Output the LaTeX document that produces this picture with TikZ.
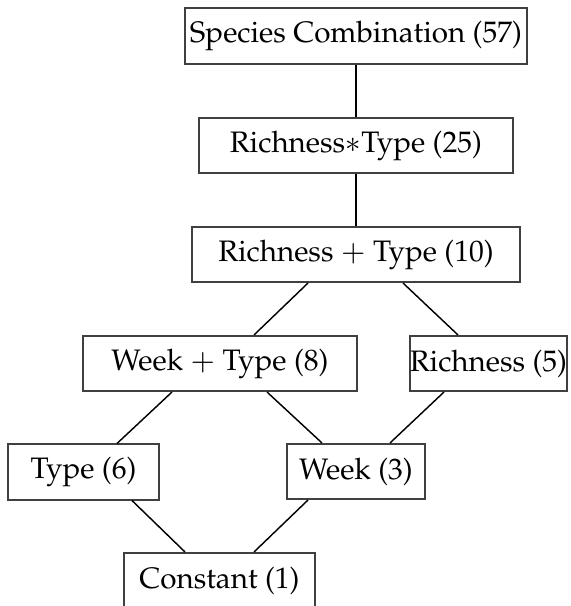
\documentclass[tikz,border=0pt]{standalone}
\usepackage[T1]{fontenc}
\usepackage{mathpazo}
\usetikzlibrary{calc}

\begin{document}
\begin{tikzpicture}[x=0.277pt, y=-0.277pt, font=\fontsize{8.2}{10}\selectfont,
  model/.style={draw, line width=0.5pt, draw=black!75, minimum height=15.3pt, inner sep=0pt, minimum width=#1}]

\useasboundingbox (0,0) rectangle (571,606);

% Models, from full to constant
\node[model=94.7pt] (sp) at (356,36) {Species Combination (57)};
\node[model=87pt] (rxt) at (356,145.5) {Richness$*$Type (25)};
\node[model=90.9pt] (rpt) at (356,254.5) {Richness $+$ Type (10)};
\node[model=75.9pt] (wpt) at (220,363.5) {Week $+$ Type (8)};
\node[model=43.5pt] (ri) at (488.5,363.5) {Richness (5)};
\node[model=41.8pt] (ty) at (83.5,472) {Type (6)};
\node[model=38.2pt] (wk) at (356,471.5) {Week (3)};
\node[model=52.9pt] (co) at (219.5,580.5) {Constant (1)};

% Nesting lines
\draw (sp.south) -- (rxt.north);
\draw (rxt.south) -- (rpt.north);
\draw ($(rpt.south)+(-48,0)$) -- ($(wpt.north)+(34,0)$);
\draw ($(rpt.south)+(47,0)$) -- ($(ri.north)+(-30.5,0)$);
\draw ($(wpt.south)+(-48,0)$) -- ($(ty.north)+(33.5,0)$);
\draw ($(wpt.south)+(47,0)$) -- ($(wk.north)+(-34,0)$);
\draw ($(ri.south)+(-44.5,0)$) -- ($(wk.north)+(34,0)$);
\draw ($(ty.south)+(48.5,0)$) -- ($(co.north)+(-34.5,0)$);
\draw ($(wk.south)+(-48,0)$) -- ($(co.north)+(34.5,0)$);

\end{tikzpicture}
\end{document}
